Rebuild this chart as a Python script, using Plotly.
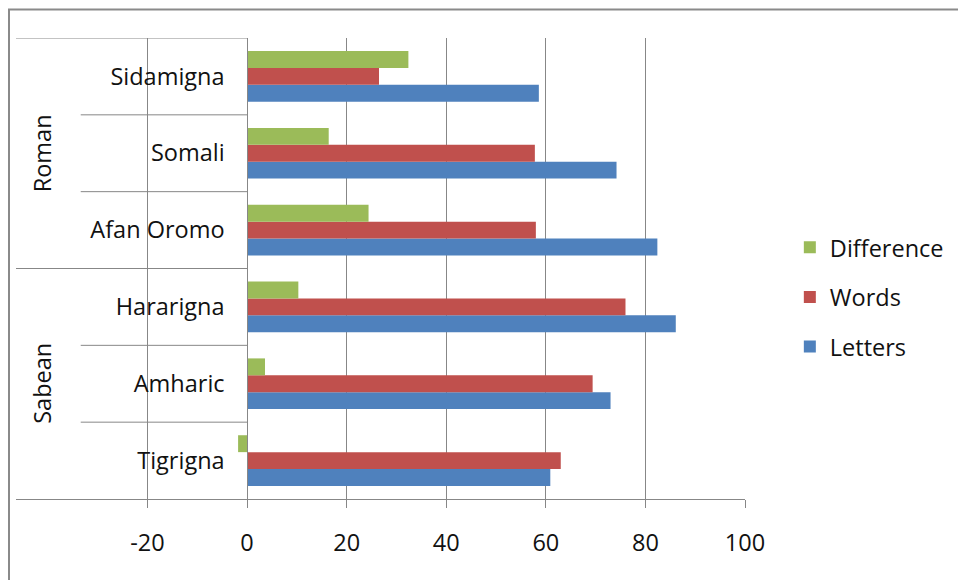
import plotly.graph_objects as go

# Recognition rates per language, grouped by script family
languages = ["Tigrigna", "Amharic", "Hararigna", "Afan Oromo", "Somali", "Sidamigna"]
scripts = ["Sabean", "Roman"]
letters = [60.9, 73.0, 86.1, 82.4, 74.2, 58.6]
words = [63.0, 69.4, 76.0, 58.0, 57.8, 26.5]
difference = [-1.8, 3.6, 10.3, 24.4, 16.4, 32.4]
x_ticks = [-20, 0, 20, 40, 60, 80, 100]

FONT = "Open Sans"
FS = 23.5
GRID = "#878787"
X_MIN = -46.4
positions = list(range(len(languages)))

fig = go.Figure()
for name, vals, color, rank in [
    ("Letters", letters, "#4F81BD", 3),
    ("Words", words, "#C0504D", 2),
    ("Difference", difference, "#9BBB59", 1),
]:
    fig.add_trace(go.Bar(
        y=positions, x=vals, name=name, orientation="h",
        marker=dict(color=color, line=dict(width=0)),
        legendgroup=name, legendrank=rank,
    ))

# Category-axis separators on the left label panel
shapes = []
for yv in [5.5, 2.5]:
    shapes.append(dict(type="line", xref="x", yref="y", x0=X_MIN, x1=0, y0=yv, y1=yv,
                       line=dict(color=GRID, width=1)))
for yv in [4.5, 3.5, 1.5, 0.5]:
    shapes.append(dict(type="line", xref="x", yref="y", x0=-33.4, x1=0, y0=yv, y1=yv,
                       line=dict(color=GRID, width=1)))
# Chart frame
shapes.append(dict(type="rect", xref="paper", yref="paper", x0=-0.0096, x1=1.4,
                   y0=-0.3, y1=1.0618, line=dict(color="#8a8a8a", width=2),
                   fillcolor="rgba(0,0,0,0)", layer="above"))

annotations = [
    dict(text=scripts[1], xref="paper", yref="y", x=0.0357, y=4, textangle=-90,
         xanchor="center", yanchor="middle",
         showarrow=False, font=dict(family=FONT, size=FS, color="#111")),
    dict(text=scripts[0], xref="paper", yref="y", x=0.0357, y=1, textangle=-90,
         xanchor="center", yanchor="middle",
         showarrow=False, font=dict(family=FONT, size=FS, color="#111")),
]

fig.update_layout(
    width=958, height=580,
    margin=dict(l=16, r=213, t=38, b=81, autoexpand=False),
    paper_bgcolor="white", plot_bgcolor="white",
    barmode="group", bargap=0.34, bargroupgap=0,
    font=dict(family=FONT, size=FS, color="#111"),
    shapes=shapes, annotations=annotations,
    legend=dict(
        x=1.0615, xanchor="left", y=0.438, yanchor="middle",
        traceorder="grouped", tracegroupgap=16,
        font=dict(family=FONT, size=FS, color="#111"),
        bgcolor="rgba(0,0,0,0)",
    ),
    xaxis=dict(
        range=[X_MIN, 100], tickvals=x_ticks, ticktext=[str(v) for v in x_ticks],
        showgrid=True, gridcolor=GRID, gridwidth=1, zeroline=False,
        showline=True, linecolor=GRID, linewidth=1,
        ticks="outside", ticklen=8, tickcolor=GRID, tickwidth=1,
        ticklabelstandoff=15,
    ),
    yaxis=dict(
        range=[-0.5, 5.5], tickvals=positions, ticktext=languages,
        anchor="free", position=0.3173, side="left",
        showgrid=False, zeroline=False,
        showline=True, linecolor=GRID, linewidth=1,
        ticks="", ticklabelstandoff=18,
    ),
)

fig.write_html("out.html")
